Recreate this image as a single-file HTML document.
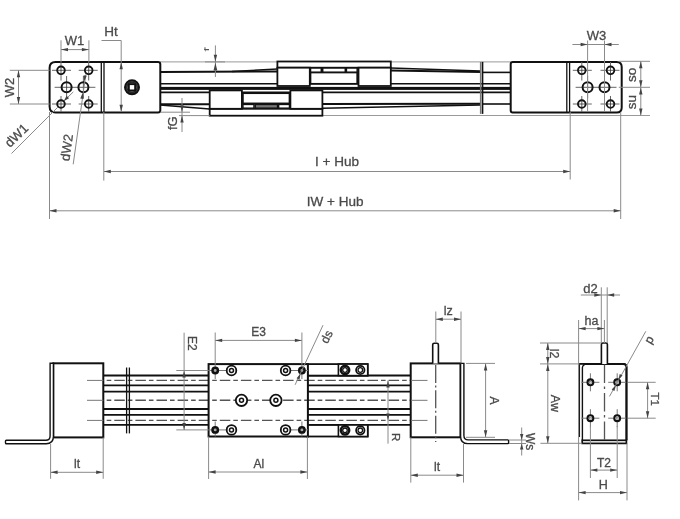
<!DOCTYPE html>
<html><head><meta charset="utf-8"><style>
html,body{margin:0;padding:0;background:#fff;}
svg{display:block;will-change:transform;}
text{font-family:"Liberation Sans",sans-serif;}
</style></head><body>
<svg width="680" height="519" viewBox="0 0 680 519">
<rect width="680" height="519" fill="#fff"/>
<line x1="160" y1="61.9" x2="510.7" y2="61.9" stroke="#9a9a9a" stroke-width="1"/>
<line x1="160" y1="72" x2="277.4" y2="71.5" stroke="#111" stroke-width="2"/>
<line x1="232" y1="71.6" x2="277.4" y2="69" stroke="#111" stroke-width="1.5"/>
<line x1="390.8" y1="70.4" x2="480.5" y2="72" stroke="#111" stroke-width="2"/>
<line x1="390.8" y1="67.9" x2="480.5" y2="71" stroke="#111" stroke-width="1.5"/>
<line x1="482.5" y1="72.4" x2="510.7" y2="72.4" stroke="#111" stroke-width="1.6"/>
<line x1="160" y1="83.8" x2="510.7" y2="83.8" stroke="#111" stroke-width="1.6"/>
<rect x="160" y="86.9" width="350.7" height="3" rx="0" stroke="#111" stroke-width="0" fill="#111"/>
<line x1="160" y1="92.4" x2="510.7" y2="92.4" stroke="#111" stroke-width="1.6"/>
<line x1="160" y1="104.3" x2="209.6" y2="104.3" stroke="#111" stroke-width="2"/>
<line x1="160" y1="104.9" x2="209.6" y2="108.9" stroke="#111" stroke-width="1.5"/>
<line x1="322.4" y1="103.9" x2="480.5" y2="103.8" stroke="#111" stroke-width="2"/>
<line x1="322.4" y1="108.3" x2="480.5" y2="105" stroke="#111" stroke-width="1.5"/>
<line x1="482.5" y1="104" x2="510.7" y2="104" stroke="#111" stroke-width="1.6"/>
<line x1="322.4" y1="115.5" x2="650" y2="115.5" stroke="#9a9a9a" stroke-width="1"/>
<rect x="277.4" y="61.5" width="113.4" height="6.2" rx="0" stroke="#111" stroke-width="1.8" fill="#fff"/>
<rect x="277.4" y="67.7" width="32.4" height="18.3" rx="0" stroke="#111" stroke-width="1.8" fill="#fff"/>
<rect x="358.5" y="67.7" width="32.3" height="18.3" rx="0" stroke="#111" stroke-width="1.8" fill="#fff"/>
<rect x="310.5" y="72.5" width="46.7" height="11.3" rx="0" stroke="#111" stroke-width="1.7" fill="#fff"/>
<rect x="310.5" y="68" width="10.8" height="4.2" rx="0" stroke="#111" stroke-width="1.5" fill="#fff"/>
<rect x="322.7" y="68" width="22.6" height="4.2" rx="0" stroke="#111" stroke-width="1.5" fill="#fff"/>
<rect x="346.4" y="68" width="10.8" height="4.2" rx="0" stroke="#111" stroke-width="1.5" fill="#fff"/>
<rect x="209.7" y="108.8" width="112.7" height="6.9" rx="0" stroke="#111" stroke-width="1.8" fill="#fff"/>
<rect x="209.7" y="90.4" width="32.2" height="18.4" rx="0" stroke="#111" stroke-width="1.8" fill="#fff"/>
<rect x="290.4" y="90.4" width="32" height="18.4" rx="0" stroke="#111" stroke-width="1.8" fill="#fff"/>
<rect x="242.9" y="93.2" width="46.6" height="10.2" rx="0" stroke="#111" stroke-width="1.7" fill="#fff"/>
<rect x="242.9" y="104.4" width="11.1" height="3.8" rx="0" stroke="#111" stroke-width="1.5" fill="#fff"/>
<rect x="255.2" y="104.4" width="22.4" height="3.8" rx="0" stroke="#111" stroke-width="1.5" fill="#777"/>
<rect x="278.6" y="104.4" width="10.9" height="3.8" rx="0" stroke="#111" stroke-width="1.5" fill="#fff"/>
<line x1="480.7" y1="61.9" x2="480.7" y2="113.9" stroke="#777" stroke-width="1.6"/>
<line x1="482.6" y1="61.9" x2="482.6" y2="113.9" stroke="#111" stroke-width="1.5"/>
<path d="M55.5 62 H158 Q160.3 62 160.3 64.3 V110.2 Q160.3 112.5 158 112.5 H55.5 Q49.6 112.5 49.6 106.5 V68 Q49.6 62 55.5 62 Z" stroke="#111" stroke-width="2" fill="#fff"/>
<line x1="101.3" y1="62" x2="101.3" y2="112.5" stroke="#111" stroke-width="1.3"/>
<line x1="104" y1="62" x2="104" y2="112.5" stroke="#111" stroke-width="1.3"/>
<path d="M512.8 62 H616.7 Q621.7 62 621.7 67 V107.5 Q621.7 112.5 616.7 112.5 H512.8 Q510.7 112.5 510.7 110.5 V64 Q510.7 62 512.8 62 Z" stroke="#111" stroke-width="2" fill="#fff"/>
<line x1="566.8" y1="62" x2="566.8" y2="112.5" stroke="#111" stroke-width="1.3"/>
<line x1="569.6" y1="62" x2="569.6" y2="112.5" stroke="#111" stroke-width="1.3"/>
<line x1="52" y1="70.3" x2="71" y2="70.3" stroke="#666" stroke-width="1"/>
<line x1="78.7" y1="70.3" x2="97.7" y2="70.3" stroke="#666" stroke-width="1"/>
<line x1="52" y1="104" x2="71" y2="104" stroke="#666" stroke-width="1"/>
<line x1="78.7" y1="104" x2="97.7" y2="104" stroke="#666" stroke-width="1"/>
<line x1="54.6" y1="87.3" x2="95.4" y2="87.3" stroke="#666" stroke-width="1"/>
<line x1="61" y1="62" x2="61" y2="80.5" stroke="#666" stroke-width="1"/>
<line x1="61" y1="96" x2="61" y2="112" stroke="#666" stroke-width="1"/>
<line x1="88.7" y1="62" x2="88.7" y2="80.5" stroke="#666" stroke-width="1"/>
<line x1="88.7" y1="96" x2="88.7" y2="112" stroke="#666" stroke-width="1"/>
<line x1="66.6" y1="76" x2="66.6" y2="98.5" stroke="#666" stroke-width="1"/>
<line x1="83.4" y1="76" x2="83.4" y2="98.5" stroke="#666" stroke-width="1"/>
<circle cx="61" cy="70.3" r="3.8" stroke="#111" stroke-width="1.9" fill="#fff"/>
<line x1="57.3" y1="70.3" x2="64.7" y2="70.3" stroke="#333" stroke-width="0.8"/>
<line x1="61" y1="66.6" x2="61" y2="74" stroke="#333" stroke-width="0.8"/>
<circle cx="61" cy="104" r="3.8" stroke="#111" stroke-width="1.9" fill="#fff"/>
<line x1="57.3" y1="104" x2="64.7" y2="104" stroke="#333" stroke-width="0.8"/>
<line x1="61" y1="100.3" x2="61" y2="107.7" stroke="#333" stroke-width="0.8"/>
<circle cx="88.7" cy="70.3" r="3.8" stroke="#111" stroke-width="1.9" fill="#fff"/>
<line x1="85" y1="70.3" x2="92.4" y2="70.3" stroke="#333" stroke-width="0.8"/>
<line x1="88.7" y1="66.6" x2="88.7" y2="74" stroke="#333" stroke-width="0.8"/>
<circle cx="88.7" cy="104" r="3.8" stroke="#111" stroke-width="1.9" fill="#fff"/>
<line x1="85" y1="104" x2="92.4" y2="104" stroke="#333" stroke-width="0.8"/>
<line x1="88.7" y1="100.3" x2="88.7" y2="107.7" stroke="#333" stroke-width="0.8"/>
<circle cx="66.6" cy="87.3" r="5" stroke="#111" stroke-width="2.0" fill="#fff"/>
<line x1="61.6" y1="87.3" x2="71.6" y2="87.3" stroke="#333" stroke-width="0.8"/>
<line x1="66.6" y1="82.3" x2="66.6" y2="92.3" stroke="#333" stroke-width="0.8"/>
<circle cx="83.4" cy="87.3" r="5" stroke="#111" stroke-width="2.0" fill="#fff"/>
<line x1="78.4" y1="87.3" x2="88.4" y2="87.3" stroke="#333" stroke-width="0.8"/>
<line x1="83.4" y1="82.3" x2="83.4" y2="92.3" stroke="#333" stroke-width="0.8"/>
<line x1="572.8" y1="70.3" x2="591.8" y2="70.3" stroke="#666" stroke-width="1"/>
<line x1="600.5" y1="70.3" x2="619.5" y2="70.3" stroke="#666" stroke-width="1"/>
<line x1="572.8" y1="104" x2="591.8" y2="104" stroke="#666" stroke-width="1"/>
<line x1="600.5" y1="104" x2="619.5" y2="104" stroke="#666" stroke-width="1"/>
<line x1="575.6" y1="87.3" x2="616.5" y2="87.3" stroke="#666" stroke-width="1"/>
<line x1="581.8" y1="62" x2="581.8" y2="80.5" stroke="#666" stroke-width="1"/>
<line x1="581.8" y1="96" x2="581.8" y2="112" stroke="#666" stroke-width="1"/>
<line x1="610.5" y1="62" x2="610.5" y2="80.5" stroke="#666" stroke-width="1"/>
<line x1="610.5" y1="96" x2="610.5" y2="112" stroke="#666" stroke-width="1"/>
<line x1="587.6" y1="76" x2="587.6" y2="98.5" stroke="#666" stroke-width="1"/>
<line x1="604.5" y1="76" x2="604.5" y2="98.5" stroke="#666" stroke-width="1"/>
<circle cx="581.8" cy="70.3" r="3.8" stroke="#111" stroke-width="1.9" fill="#fff"/>
<line x1="578.1" y1="70.3" x2="585.5" y2="70.3" stroke="#333" stroke-width="0.8"/>
<line x1="581.8" y1="66.6" x2="581.8" y2="74" stroke="#333" stroke-width="0.8"/>
<circle cx="581.8" cy="104" r="3.8" stroke="#111" stroke-width="1.9" fill="#fff"/>
<line x1="578.1" y1="104" x2="585.5" y2="104" stroke="#333" stroke-width="0.8"/>
<line x1="581.8" y1="100.3" x2="581.8" y2="107.7" stroke="#333" stroke-width="0.8"/>
<circle cx="610.5" cy="70.3" r="3.8" stroke="#111" stroke-width="1.9" fill="#fff"/>
<line x1="606.8" y1="70.3" x2="614.2" y2="70.3" stroke="#333" stroke-width="0.8"/>
<line x1="610.5" y1="66.6" x2="610.5" y2="74" stroke="#333" stroke-width="0.8"/>
<circle cx="610.5" cy="104" r="3.8" stroke="#111" stroke-width="1.9" fill="#fff"/>
<line x1="606.8" y1="104" x2="614.2" y2="104" stroke="#333" stroke-width="0.8"/>
<line x1="610.5" y1="100.3" x2="610.5" y2="107.7" stroke="#333" stroke-width="0.8"/>
<circle cx="587.6" cy="87.3" r="5" stroke="#111" stroke-width="2.0" fill="#fff"/>
<line x1="582.6" y1="87.3" x2="592.6" y2="87.3" stroke="#333" stroke-width="0.8"/>
<line x1="587.6" y1="82.3" x2="587.6" y2="92.3" stroke="#333" stroke-width="0.8"/>
<circle cx="604.5" cy="87.3" r="5" stroke="#111" stroke-width="2.0" fill="#fff"/>
<line x1="599.5" y1="87.3" x2="609.5" y2="87.3" stroke="#333" stroke-width="0.8"/>
<line x1="604.5" y1="82.3" x2="604.5" y2="92.3" stroke="#333" stroke-width="0.8"/>
<circle cx="132" cy="87.3" r="7" stroke="#111" stroke-width="2.0" fill="#555"/>
<circle cx="132" cy="87.3" r="5.2" stroke="#222" stroke-width="1.2" fill="#666"/>
<rect x="128" y="83.3" width="8" height="8" rx="0" stroke="#111" stroke-width="0" fill="#111"/>
<rect x="129.8" y="85.1" width="4.4" height="4.4" rx="0" stroke="#111" stroke-width="0" fill="#fff"/>
<line x1="61" y1="40.3" x2="61" y2="62" stroke="#8a8a8a" stroke-width="1"/>
<line x1="88.9" y1="40.3" x2="88.9" y2="62" stroke="#8a8a8a" stroke-width="1"/>
<line x1="61" y1="49.6" x2="88.9" y2="49.6" stroke="#8a8a8a" stroke-width="1"/>
<polygon points="61,49.6 68,47.9 68,51.3" fill="#444"/>
<polygon points="88.9,49.6 81.9,51.3 81.9,47.9" fill="#444"/>
<text x="74.4" y="45.28" font-size="13" fill="#4a4a4a" stroke="#4a4a4a" stroke-width="0.3" text-anchor="middle">W1</text>
<line x1="101.5" y1="40.5" x2="121.2" y2="40.5" stroke="#8a8a8a" stroke-width="1"/>
<line x1="121.2" y1="40.5" x2="121.2" y2="112" stroke="#8a8a8a" stroke-width="1"/>
<polygon points="121.2,62.3 122.9,69.3 119.5,69.3" fill="#444"/>
<polygon points="121.2,111.8 119.5,104.8 122.9,104.8" fill="#444"/>
<text x="111" y="36.26" font-size="13.5" fill="#4a4a4a" stroke="#4a4a4a" stroke-width="0.3" text-anchor="middle">Ht</text>
<line x1="9.8" y1="70.3" x2="49.6" y2="70.3" stroke="#8a8a8a" stroke-width="1"/>
<line x1="9.8" y1="104" x2="49.6" y2="104" stroke="#8a8a8a" stroke-width="1"/>
<line x1="18.5" y1="70.3" x2="18.5" y2="104" stroke="#8a8a8a" stroke-width="1"/>
<polygon points="18.5,70.3 20.2,77.3 16.8,77.3" fill="#444"/>
<polygon points="18.5,104 16.8,97 20.2,97" fill="#444"/>
<text x="9.1" y="92.18" font-size="13" fill="#4a4a4a" stroke="#4a4a4a" stroke-width="0.3" text-anchor="middle" transform="rotate(-90 9.1 87.5)">W2</text>
<line x1="11.5" y1="153.5" x2="57.8" y2="107.2" stroke="#8a8a8a" stroke-width="1"/>
<line x1="64.2" y1="100.8" x2="73.3" y2="91.9" stroke="#8a8a8a" stroke-width="1"/>
<polygon points="63.6,101.2 66.64,95.76 69.04,98.16" fill="#444"/>
<text x="16.3" y="139.98" font-size="13" fill="#4a4a4a" stroke="#4a4a4a" stroke-width="0.3" text-anchor="middle" transform="rotate(-44.5 16.3 135.3)">dW1</text>
<line x1="73.2" y1="164.3" x2="85.8" y2="74.5" stroke="#8a8a8a" stroke-width="1"/>
<polygon points="82.7,92.8 83.45,98.96 80.28,98.52" fill="#444"/>
<polygon points="84.3,81.5 83.55,75.34 86.72,75.78" fill="#444"/>
<text x="66.5" y="152.18" font-size="13" fill="#4a4a4a" stroke="#4a4a4a" stroke-width="0.3" text-anchor="middle" transform="rotate(-81.7 66.5 147.5)">dW2</text>
<line x1="215.4" y1="45.4" x2="215.4" y2="77" stroke="#8a8a8a" stroke-width="1"/>
<line x1="205" y1="61.9" x2="225" y2="61.9" stroke="#8a8a8a" stroke-width="1"/>
<polygon points="215.4,61.8 213.7,54.8 217.1,54.8" fill="#444"/>
<polygon points="215.4,62.8 217.3,70.6 213.5,70.6" fill="#444"/>
<text x="0" y="0" font-size="16" fill="#555" text-anchor="middle" transform="translate(206.0 49.6) rotate(-90) scale(1 0.5) translate(0 5.6)">f</text>
<line x1="182" y1="98" x2="182" y2="132" stroke="#8a8a8a" stroke-width="1"/>
<line x1="160.3" y1="112.2" x2="190" y2="112.2" stroke="#8a8a8a" stroke-width="1"/>
<line x1="179" y1="115.6" x2="209.7" y2="115.6" stroke="#8a8a8a" stroke-width="1"/>
<polygon points="182,112.2 180.3,105.2 183.7,105.2" fill="#444"/>
<polygon points="182,115.6 183.7,122.6 180.3,122.6" fill="#444"/>
<text x="172.6" y="127.88" font-size="13" fill="#4a4a4a" stroke="#4a4a4a" stroke-width="0.3" text-anchor="middle" transform="rotate(-90 172.6 123.2)">fG</text>
<line x1="103.8" y1="112" x2="103.8" y2="180.6" stroke="#8a8a8a" stroke-width="1"/>
<line x1="570.2" y1="112" x2="570.2" y2="179.5" stroke="#8a8a8a" stroke-width="1"/>
<line x1="103.8" y1="171.5" x2="570.2" y2="171.5" stroke="#8a8a8a" stroke-width="1"/>
<polygon points="103.8,171.5 110.8,169.8 110.8,173.2" fill="#444"/>
<polygon points="570.2,171.5 563.2,173.2 563.2,169.8" fill="#444"/>
<text x="337" y="166.06" font-size="13.5" fill="#4a4a4a" stroke="#4a4a4a" stroke-width="0.3" text-anchor="middle">I + Hub</text>
<line x1="49.5" y1="112" x2="49.5" y2="219" stroke="#8a8a8a" stroke-width="1"/>
<line x1="620.7" y1="112" x2="620.7" y2="219" stroke="#8a8a8a" stroke-width="1"/>
<line x1="49.5" y1="210.8" x2="620.7" y2="210.8" stroke="#8a8a8a" stroke-width="1"/>
<polygon points="49.5,210.8 56.5,209.1 56.5,212.5" fill="#444"/>
<polygon points="620.7,210.8 613.7,212.5 613.7,209.1" fill="#444"/>
<text x="335.1" y="205.76" font-size="13.5" fill="#4a4a4a" stroke="#4a4a4a" stroke-width="0.3" text-anchor="middle">IW + Hub</text>
<line x1="587.6" y1="40.5" x2="587.6" y2="111" stroke="#8a8a8a" stroke-width="1"/>
<line x1="604.5" y1="40.5" x2="604.5" y2="111" stroke="#8a8a8a" stroke-width="1"/>
<line x1="572.4" y1="44.5" x2="618.8" y2="44.5" stroke="#8a8a8a" stroke-width="1"/>
<polygon points="587.6,44.5 580.6,46.2 580.6,42.8" fill="#444"/>
<polygon points="604.5,44.5 611.5,42.8 611.5,46.2" fill="#444"/>
<text x="596.6" y="39.68" font-size="13" fill="#4a4a4a" stroke="#4a4a4a" stroke-width="0.3" text-anchor="middle">W3</text>
<line x1="618.8" y1="61.3" x2="650" y2="61.3" stroke="#8a8a8a" stroke-width="1"/>
<line x1="618.8" y1="87.3" x2="650" y2="87.3" stroke="#8a8a8a" stroke-width="1"/>
<line x1="640.8" y1="61.3" x2="640.8" y2="115.5" stroke="#8a8a8a" stroke-width="1"/>
<polygon points="640.8,61.3 642.5,68.3 639.1,68.3" fill="#444"/>
<polygon points="640.8,87.3 639.1,80.3 642.5,80.3" fill="#444"/>
<polygon points="640.8,87.5 642.5,94.5 639.1,94.5" fill="#444"/>
<polygon points="640.8,115.5 639.1,108.5 642.5,108.5" fill="#444"/>
<text x="631.3" y="79.66" font-size="13.5" fill="#4a4a4a" stroke="#4a4a4a" stroke-width="0.3" text-anchor="middle" transform="rotate(-90 631.3 74.8)">so</text>
<text x="631.5" y="106.86" font-size="13.5" fill="#4a4a4a" stroke="#4a4a4a" stroke-width="0.3" text-anchor="middle" transform="rotate(-90 631.5 102)">su</text>
<line x1="103.3" y1="375.5" x2="410.7" y2="375.5" stroke="#111" stroke-width="1.8"/>
<line x1="103.3" y1="385.4" x2="410.7" y2="385.4" stroke="#111" stroke-width="1.8"/>
<line x1="103.3" y1="391.7" x2="410.7" y2="391.7" stroke="#111" stroke-width="1.8"/>
<line x1="103.3" y1="409" x2="410.7" y2="409" stroke="#111" stroke-width="1.8"/>
<line x1="103.3" y1="414.8" x2="410.7" y2="414.8" stroke="#111" stroke-width="1.8"/>
<line x1="103.3" y1="424.8" x2="410.7" y2="424.8" stroke="#111" stroke-width="1.8"/>
<line x1="103.3" y1="380.4" x2="410.7" y2="380.4" stroke="#555" stroke-width="1.4" stroke-dasharray="10.5 3 4.6 3" stroke-dashoffset="10.099999999999994"/>
<line x1="103.3" y1="400.3" x2="410.7" y2="400.3" stroke="#555" stroke-width="1.4" stroke-dasharray="10.5 3 4.6 3" stroke-dashoffset="10.099999999999994"/>
<line x1="103.3" y1="420.4" x2="410.7" y2="420.4" stroke="#555" stroke-width="1.4" stroke-dasharray="10.5 3 4.6 3" stroke-dashoffset="10.099999999999994"/>
<rect x="53.3" y="363.3" width="50" height="74.1" rx="0" stroke="#111" stroke-width="2" fill="#fff"/>
<path d="M50.1 363.3 V436 Q50.1 440.3 45.8 440.3 H6.3 Q5.5 440.3 5.5 441.1 V443 Q5.5 443.8 6.3 443.8 H46.2 Q53.4 443.8 53.4 436.6 V363.3 Z" stroke="#111" stroke-width="1.4" fill="#fff"/>
<line x1="87" y1="380.4" x2="103.3" y2="380.4" stroke="#777" stroke-width="1"/>
<line x1="87" y1="400.3" x2="103.3" y2="400.3" stroke="#777" stroke-width="1"/>
<line x1="87" y1="420.4" x2="103.3" y2="420.4" stroke="#777" stroke-width="1"/>
<line x1="126.6" y1="367.5" x2="126.6" y2="433.4" stroke="#111" stroke-width="1.3"/>
<line x1="129.4" y1="367.5" x2="129.4" y2="433.4" stroke="#111" stroke-width="1.3"/>
<rect x="307" y="364.1" width="60.7" height="11.5" rx="0" stroke="#111" stroke-width="1.8" fill="#fff"/>
<rect x="307" y="425" width="60.7" height="11.5" rx="0" stroke="#111" stroke-width="1.8" fill="#fff"/>
<rect x="338.4" y="364.1" width="29.3" height="11.5" rx="0" stroke="#111" stroke-width="1.6" fill="#fff"/>
<rect x="338.4" y="425" width="29.3" height="11.5" rx="0" stroke="#111" stroke-width="1.6" fill="#fff"/>
<circle cx="345" cy="370" r="4.2" stroke="#111" stroke-width="2.5" fill="#fff"/>
<circle cx="345" cy="370" r="2.3" stroke="#111" stroke-width="1.3" fill="#fff"/>
<circle cx="345" cy="430.3" r="4.2" stroke="#111" stroke-width="2.5" fill="#fff"/>
<circle cx="345" cy="430.3" r="2.3" stroke="#111" stroke-width="1.3" fill="#fff"/>
<circle cx="360.3" cy="370" r="4.2" stroke="#111" stroke-width="1.8" fill="#fff"/>
<circle cx="360.3" cy="370" r="2.3" stroke="#111" stroke-width="1.3" fill="#fff"/>
<circle cx="360.3" cy="430.3" r="4.2" stroke="#111" stroke-width="1.8" fill="#fff"/>
<circle cx="360.3" cy="430.3" r="2.3" stroke="#111" stroke-width="1.3" fill="#fff"/>
<rect x="208.6" y="364.1" width="99.3" height="72.4" rx="0" stroke="#111" stroke-width="2" fill="#fff"/>
<line x1="211" y1="380.4" x2="307" y2="380.4" stroke="#555" stroke-width="1.4" stroke-dasharray="10.5 3 4.6 3" stroke-dashoffset="12.29999999999999"/>
<line x1="211" y1="400.3" x2="307" y2="400.3" stroke="#555" stroke-width="1.4" stroke-dasharray="10.5 3 4.6 3" stroke-dashoffset="12.29999999999999"/>
<line x1="211" y1="420.4" x2="307" y2="420.4" stroke="#555" stroke-width="1.4" stroke-dasharray="10.5 3 4.6 3" stroke-dashoffset="12.29999999999999"/>
<line x1="208.6" y1="370.5" x2="236" y2="370.5" stroke="#777" stroke-width="1"/>
<line x1="281" y1="370.5" x2="307.9" y2="370.5" stroke="#777" stroke-width="1"/>
<line x1="208.6" y1="429.9" x2="236" y2="429.9" stroke="#777" stroke-width="1"/>
<line x1="281" y1="429.9" x2="307.9" y2="429.9" stroke="#777" stroke-width="1"/>
<line x1="215.2" y1="364.1" x2="215.2" y2="379" stroke="#777" stroke-width="1"/>
<line x1="215.2" y1="421.5" x2="215.2" y2="436.5" stroke="#777" stroke-width="1"/>
<line x1="301.9" y1="364.1" x2="301.9" y2="379" stroke="#777" stroke-width="1"/>
<line x1="301.9" y1="421.5" x2="301.9" y2="436.5" stroke="#777" stroke-width="1"/>
<circle cx="231.5" cy="370.5" r="4.8" stroke="#111" stroke-width="1.8" fill="#fff"/>
<circle cx="231.5" cy="370.5" r="2" stroke="#111" stroke-width="1.5" fill="#fff"/>
<circle cx="231.5" cy="429.9" r="4.8" stroke="#111" stroke-width="1.8" fill="#fff"/>
<circle cx="231.5" cy="429.9" r="2" stroke="#111" stroke-width="1.5" fill="#fff"/>
<circle cx="285.6" cy="370.5" r="4.8" stroke="#111" stroke-width="1.8" fill="#fff"/>
<circle cx="285.6" cy="370.5" r="2" stroke="#111" stroke-width="1.5" fill="#fff"/>
<circle cx="285.6" cy="429.9" r="4.8" stroke="#111" stroke-width="1.8" fill="#fff"/>
<circle cx="285.6" cy="429.9" r="2" stroke="#111" stroke-width="1.5" fill="#fff"/>
<circle cx="241.5" cy="400.3" r="5.7" stroke="#111" stroke-width="1.8" fill="#fff"/>
<circle cx="241.5" cy="400.3" r="2" stroke="#111" stroke-width="1.5" fill="#fff"/>
<circle cx="275.9" cy="400.3" r="5.7" stroke="#111" stroke-width="1.8" fill="#fff"/>
<circle cx="275.9" cy="400.3" r="2" stroke="#111" stroke-width="1.5" fill="#fff"/>
<circle cx="215.2" cy="370.5" r="2.7" stroke="#111" stroke-width="2.5" fill="#aaa"/>
<circle cx="215.2" cy="429.9" r="2.7" stroke="#111" stroke-width="2.5" fill="#aaa"/>
<circle cx="301.9" cy="370.5" r="2.7" stroke="#111" stroke-width="2.5" fill="#aaa"/>
<circle cx="301.9" cy="429.9" r="2.7" stroke="#111" stroke-width="2.5" fill="#aaa"/>
<rect x="410.7" y="363.4" width="49.8" height="73.9" rx="0" stroke="#111" stroke-width="2" fill="#fff"/>
<path d="M460.6 363.4 V436.4 Q460.6 443.6 467.8 443.6 H507.8 Q508.6 443.6 508.6 442.8 V440.7 Q508.6 439.9 507.8 439.9 H468.2 Q463.9 439.9 463.9 435.6 V363.4 Z" stroke="#111" stroke-width="1.4" fill="#fff"/>
<path d="M432.7 363.4 V344.8 Q432.7 343.2 434.3 343.2 H436.8 Q438.4 343.2 438.4 344.8 V363.4" stroke="#111" stroke-width="1.6" fill="#fff"/>
<line x1="435.7" y1="364.9" x2="435.7" y2="442" stroke="#555" stroke-width="1.3" stroke-dasharray="18 2.5 2 2.9" stroke-dashoffset="0"/>
<line x1="411" y1="380.4" x2="427.5" y2="380.4" stroke="#777" stroke-width="1"/>
<line x1="411" y1="400.3" x2="427.5" y2="400.3" stroke="#777" stroke-width="1"/>
<line x1="411" y1="420.4" x2="427.5" y2="420.4" stroke="#777" stroke-width="1"/>
<line x1="50.6" y1="444" x2="50.6" y2="478.8" stroke="#8a8a8a" stroke-width="1"/>
<line x1="103.2" y1="437.4" x2="103.2" y2="478.8" stroke="#8a8a8a" stroke-width="1"/>
<line x1="50.6" y1="472.3" x2="103.2" y2="472.3" stroke="#8a8a8a" stroke-width="1"/>
<polygon points="50.6,472.3 57.6,470.6 57.6,474" fill="#444"/>
<polygon points="103.2,472.3 96.2,474 96.2,470.6" fill="#444"/>
<text x="77.1" y="468.22" font-size="12" fill="#4a4a4a" stroke="#4a4a4a" stroke-width="0.3" text-anchor="middle">lt</text>
<line x1="184.1" y1="332.7" x2="184.1" y2="430" stroke="#8a8a8a" stroke-width="1"/>
<line x1="176.3" y1="370.5" x2="208.6" y2="370.5" stroke="#8a8a8a" stroke-width="1"/>
<line x1="176.3" y1="429.9" x2="208.6" y2="429.9" stroke="#8a8a8a" stroke-width="1"/>
<polygon points="184.1,370.5 185.8,377.5 182.4,377.5" fill="#444"/>
<polygon points="184.1,429.9 182.4,422.9 185.8,422.9" fill="#444"/>
<text x="191.9" y="347.62" font-size="12" fill="#4a4a4a" stroke="#4a4a4a" stroke-width="0.3" text-anchor="middle" transform="rotate(90 191.9 343.3)">E2</text>
<line x1="215.2" y1="332.5" x2="215.2" y2="364.1" stroke="#8a8a8a" stroke-width="1"/>
<line x1="301.9" y1="332.5" x2="301.9" y2="364.1" stroke="#8a8a8a" stroke-width="1"/>
<line x1="215.2" y1="340.4" x2="301.9" y2="340.4" stroke="#8a8a8a" stroke-width="1"/>
<polygon points="215.2,340.4 222.2,338.7 222.2,342.1" fill="#444"/>
<polygon points="301.9,340.4 294.9,342.1 294.9,338.7" fill="#444"/>
<text x="258.6" y="336.12" font-size="12" fill="#4a4a4a" stroke="#4a4a4a" stroke-width="0.3" text-anchor="middle">E3</text>
<line x1="295.1" y1="384.8" x2="323" y2="325.2" stroke="#8a8a8a" stroke-width="1"/>
<polygon points="300.6,373.6 299.51,379.71 296.61,378.36" fill="#444"/>
<text x="326.4" y="341.02" font-size="12" fill="#4a4a4a" stroke="#4a4a4a" stroke-width="0.3" text-anchor="middle" transform="rotate(-64 326.4 336.7)">ds</text>
<line x1="208.6" y1="436.5" x2="208.6" y2="479" stroke="#8a8a8a" stroke-width="1"/>
<line x1="307.4" y1="436.5" x2="307.4" y2="479" stroke="#8a8a8a" stroke-width="1"/>
<line x1="208.6" y1="472" x2="307.4" y2="472" stroke="#8a8a8a" stroke-width="1"/>
<polygon points="208.6,472 215.6,470.3 215.6,473.7" fill="#444"/>
<polygon points="307.4,472 300.4,473.7 300.4,470.3" fill="#444"/>
<text x="258.9" y="468.22" font-size="12" fill="#4a4a4a" stroke="#4a4a4a" stroke-width="0.3" text-anchor="middle">Al</text>
<line x1="388" y1="380.4" x2="388" y2="443.7" stroke="#8a8a8a" stroke-width="1"/>
<polygon points="388,380.4 389.7,387.4 386.3,387.4" fill="#444"/>
<polygon points="388,420.4 386.3,413.4 389.7,413.4" fill="#444"/>
<text x="396.2" y="441.24" font-size="11.5" fill="#4a4a4a" stroke="#4a4a4a" stroke-width="0.3" text-anchor="middle" transform="rotate(90 396.2 437.1)">R</text>
<line x1="435.8" y1="311.5" x2="435.8" y2="343.2" stroke="#8a8a8a" stroke-width="1"/>
<line x1="461" y1="311.5" x2="461" y2="363.4" stroke="#8a8a8a" stroke-width="1"/>
<line x1="435.8" y1="319.2" x2="461" y2="319.2" stroke="#8a8a8a" stroke-width="1"/>
<polygon points="435.8,319.2 442.8,317.5 442.8,320.9" fill="#444"/>
<polygon points="461,319.2 454,320.9 454,317.5" fill="#444"/>
<text x="448.2" y="315.3" font-size="12.5" fill="#4a4a4a" stroke="#4a4a4a" stroke-width="0.3" text-anchor="middle">lz</text>
<line x1="410.8" y1="437.3" x2="410.8" y2="482.6" stroke="#8a8a8a" stroke-width="1"/>
<line x1="463.5" y1="444" x2="463.5" y2="482.6" stroke="#8a8a8a" stroke-width="1"/>
<line x1="410.8" y1="475.2" x2="463.5" y2="475.2" stroke="#8a8a8a" stroke-width="1"/>
<polygon points="410.8,475.2 417.8,473.5 417.8,476.9" fill="#444"/>
<polygon points="463.5,475.2 456.5,476.9 456.5,473.5" fill="#444"/>
<text x="437" y="471.12" font-size="12" fill="#4a4a4a" stroke="#4a4a4a" stroke-width="0.3" text-anchor="middle">lt</text>
<line x1="466" y1="363.4" x2="495" y2="363.4" stroke="#8a8a8a" stroke-width="1"/>
<line x1="466" y1="437.3" x2="495" y2="437.3" stroke="#8a8a8a" stroke-width="1"/>
<line x1="485.6" y1="363.4" x2="485.6" y2="437.3" stroke="#8a8a8a" stroke-width="1"/>
<polygon points="485.6,363.4 487.3,370.4 483.9,370.4" fill="#444"/>
<polygon points="485.6,437.3 483.9,430.3 487.3,430.3" fill="#444"/>
<text x="494" y="404.72" font-size="12" fill="#4a4a4a" stroke="#4a4a4a" stroke-width="0.3" text-anchor="middle" transform="rotate(90 494 400.4)">A</text>
<line x1="521.7" y1="427.5" x2="521.7" y2="455.5" stroke="#8a8a8a" stroke-width="1"/>
<line x1="509" y1="440" x2="526" y2="440" stroke="#8a8a8a" stroke-width="1"/>
<line x1="509" y1="443.5" x2="526" y2="443.5" stroke="#8a8a8a" stroke-width="1"/>
<polygon points="521.7,440 520,434 523.4,434" fill="#444"/>
<polygon points="521.7,443.5 523.4,449.5 520,449.5" fill="#444"/>
<text x="530.8" y="446.02" font-size="12" fill="#4a4a4a" stroke="#4a4a4a" stroke-width="0.3" text-anchor="middle" transform="rotate(90 530.8 441.7)">Ws</text>
<path d="M583.5 363.9 H623.2 Q626.4 363.9 626.4 367.1 V440.3" stroke="#111" stroke-width="2" fill="#fff"/>
<rect x="582" y="364.8" width="43.6" height="75" fill="#fff"/>
<path d="M583.5 363.9 H623.2 Q626.4 363.9 626.4 367.1 V440.3" stroke="#111" stroke-width="2" fill="none"/>
<line x1="579.3" y1="363" x2="579.3" y2="437" stroke="#111" stroke-width="1.5"/>
<path d="M582.4 440.3 V367.5 Q582.4 365.4 584.5 364.8" stroke="#111" stroke-width="1.4" fill="none"/>
<line x1="579.3" y1="363.9" x2="585" y2="363.9" stroke="#111" stroke-width="1.8"/>
<rect x="582.2" y="440.3" width="44.2" height="3.1" rx="0" stroke="#111" stroke-width="1.7" fill="#fff"/>
<path d="M601.4 363.9 V344.6 Q601.4 343 603 343 H605.8 Q607.4 343 607.4 344.6 V363.9" stroke="#111" stroke-width="1.6" fill="#fff"/>
<line x1="604.5" y1="364.5" x2="604.5" y2="440.3" stroke="#555" stroke-width="1.3" stroke-dasharray="18.5 3.5 2.5 4" stroke-dashoffset="0"/>
<line x1="581.4" y1="382.3" x2="599.4" y2="382.3" stroke="#777" stroke-width="1"/>
<line x1="590.4" y1="373.3" x2="590.4" y2="391.3" stroke="#777" stroke-width="1"/>
<circle cx="590.4" cy="382.3" r="2.9" stroke="#111" stroke-width="2.1" fill="#fff"/>
<rect x="589.5" y="381.4" width="1.8" height="1.8" rx="0" stroke="#888" stroke-width="0.9" fill="none"/>
<line x1="581.4" y1="418.2" x2="599.4" y2="418.2" stroke="#777" stroke-width="1"/>
<line x1="590.4" y1="409.2" x2="590.4" y2="427.2" stroke="#777" stroke-width="1"/>
<circle cx="590.4" cy="418.2" r="2.9" stroke="#111" stroke-width="2.1" fill="#fff"/>
<rect x="589.5" y="417.3" width="1.8" height="1.8" rx="0" stroke="#888" stroke-width="0.9" fill="none"/>
<line x1="608.2" y1="382.3" x2="626.2" y2="382.3" stroke="#777" stroke-width="1"/>
<line x1="617.2" y1="373.3" x2="617.2" y2="391.3" stroke="#777" stroke-width="1"/>
<circle cx="617.2" cy="382.3" r="2.9" stroke="#111" stroke-width="2.1" fill="#fff"/>
<rect x="616.3" y="381.4" width="1.8" height="1.8" rx="0" stroke="#888" stroke-width="0.9" fill="none"/>
<line x1="608.2" y1="418.2" x2="626.2" y2="418.2" stroke="#777" stroke-width="1"/>
<line x1="617.2" y1="409.2" x2="617.2" y2="427.2" stroke="#777" stroke-width="1"/>
<circle cx="617.2" cy="418.2" r="2.9" stroke="#111" stroke-width="2.1" fill="#fff"/>
<rect x="616.3" y="417.3" width="1.8" height="1.8" rx="0" stroke="#888" stroke-width="0.9" fill="none"/>
<line x1="601.3" y1="287.3" x2="601.3" y2="343" stroke="#8a8a8a" stroke-width="1"/>
<line x1="607.2" y1="287.3" x2="607.2" y2="343" stroke="#8a8a8a" stroke-width="1"/>
<line x1="580.8" y1="295" x2="620" y2="295" stroke="#8a8a8a" stroke-width="1"/>
<polygon points="601.3,295 594.3,296.7 594.3,293.3" fill="#444"/>
<polygon points="607.2,295 614.2,293.3 614.2,296.7" fill="#444"/>
<text x="590.4" y="292.58" font-size="13" fill="#4a4a4a" stroke="#4a4a4a" stroke-width="0.3" text-anchor="middle">d2</text>
<line x1="578.6" y1="320" x2="578.6" y2="500.4" stroke="#8a8a8a" stroke-width="1"/>
<line x1="604.4" y1="320" x2="604.4" y2="343" stroke="#8a8a8a" stroke-width="1"/>
<line x1="578.6" y1="328.6" x2="604.4" y2="328.6" stroke="#8a8a8a" stroke-width="1"/>
<polygon points="578.6,328.6 585.6,326.9 585.6,330.3" fill="#444"/>
<polygon points="604.4,328.6 597.4,330.3 597.4,326.9" fill="#444"/>
<text x="591.5" y="324.9" font-size="12.5" fill="#4a4a4a" stroke="#4a4a4a" stroke-width="0.3" text-anchor="middle">ha</text>
<line x1="540" y1="343" x2="601.4" y2="343" stroke="#8a8a8a" stroke-width="1"/>
<line x1="540" y1="363.9" x2="579.5" y2="363.9" stroke="#8a8a8a" stroke-width="1"/>
<line x1="540.4" y1="443.3" x2="582.2" y2="443.3" stroke="#8a8a8a" stroke-width="1"/>
<line x1="547.8" y1="343" x2="547.8" y2="443.3" stroke="#8a8a8a" stroke-width="1"/>
<polygon points="547.8,343 549.5,350 546.1,350" fill="#444"/>
<polygon points="547.8,363.9 546.1,356.9 549.5,356.9" fill="#444"/>
<polygon points="547.8,364.1 549.5,371.1 546.1,371.1" fill="#444"/>
<polygon points="547.8,443.3 546.1,436.3 549.5,436.3" fill="#444"/>
<text x="554.2" y="358" font-size="12.5" fill="#4a4a4a" stroke="#4a4a4a" stroke-width="0.3" text-anchor="middle" transform="rotate(90 554.2 353.5)">l2</text>
<text x="555.6" y="407.9" font-size="12.5" fill="#4a4a4a" stroke="#4a4a4a" stroke-width="0.3" text-anchor="middle" transform="rotate(90 555.6 403.4)">Aw</text>
<line x1="628" y1="382.3" x2="655.7" y2="382.3" stroke="#8a8a8a" stroke-width="1"/>
<line x1="628" y1="418.2" x2="655.7" y2="418.2" stroke="#8a8a8a" stroke-width="1"/>
<line x1="647.6" y1="382.3" x2="647.6" y2="418.2" stroke="#8a8a8a" stroke-width="1"/>
<polygon points="647.6,382.3 649.3,389.3 645.9,389.3" fill="#444"/>
<polygon points="647.6,418.2 645.9,411.2 649.3,411.2" fill="#444"/>
<text x="655" y="403.44" font-size="11.5" fill="#4a4a4a" stroke="#4a4a4a" stroke-width="0.3" text-anchor="middle" transform="rotate(90 655 399.3)">T1</text>
<line x1="609.5" y1="396.4" x2="645.8" y2="331.3" stroke="#8a8a8a" stroke-width="1"/>
<polygon points="616,385 614.45,391.01 611.66,389.44" fill="#444"/>
<polygon points="618.2,380 619.75,373.99 622.54,375.56" fill="#444"/>
<text x="650.8" y="345.22" font-size="12" fill="#4a4a4a" stroke="#4a4a4a" stroke-width="0.3" text-anchor="middle" transform="rotate(120 650.8 340.9)">d</text>
<line x1="590.4" y1="426" x2="590.4" y2="478" stroke="#8a8a8a" stroke-width="1"/>
<line x1="617.2" y1="426" x2="617.2" y2="478" stroke="#8a8a8a" stroke-width="1"/>
<line x1="590.4" y1="470.1" x2="617.2" y2="470.1" stroke="#8a8a8a" stroke-width="1"/>
<polygon points="590.4,470.1 597.4,468.4 597.4,471.8" fill="#444"/>
<polygon points="617.2,470.1 610.2,471.8 610.2,468.4" fill="#444"/>
<text x="604" y="466.62" font-size="12" fill="#4a4a4a" stroke="#4a4a4a" stroke-width="0.3" text-anchor="middle">T2</text>
<line x1="627" y1="443.4" x2="627" y2="500.4" stroke="#8a8a8a" stroke-width="1"/>
<line x1="578.6" y1="492.6" x2="627" y2="492.6" stroke="#8a8a8a" stroke-width="1"/>
<polygon points="578.6,492.6 585.6,490.9 585.6,494.3" fill="#444"/>
<polygon points="627,492.6 620,494.3 620,490.9" fill="#444"/>
<text x="603.2" y="489" font-size="12.5" fill="#4a4a4a" stroke="#4a4a4a" stroke-width="0.3" text-anchor="middle">H</text>
</svg>
</body></html>
